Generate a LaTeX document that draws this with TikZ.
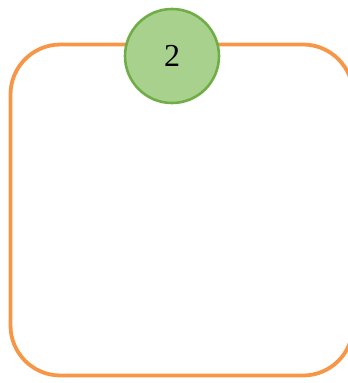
\documentclass[tikz,border=0pt]{standalone}
\usepackage{fontspec}
\setmainfont{Liberation Serif}
\usepackage{tikz}
\usetikzlibrary{positioning}
\definecolor{frameorange}{HTML}{F79646}
\definecolor{ballfill}{HTML}{A9D18E}
\definecolor{balldraw}{HTML}{70AD47}
\tikzset{
  frame/.style={draw=frameorange, line width=3.8pt, rounded corners=50pt},
  ball/.style={circle, draw=balldraw, fill=ballfill, line width=2.6pt, minimum size=94pt, inner sep=0pt, font=\fontsize{32}{35}\selectfont}
}

\begin{document}
\begin{tikzpicture}[x=1pt,y=-1pt]
\useasboundingbox (0,0) rectangle (348,383);
\clip (0,0) rectangle (348,383);
\draw[frame] (10.5,44.5) coordinate(A) rectangle (353,375.5) coordinate(C);
\node[ball] (two) at (172,56) {2};
\end{tikzpicture}
\end{document}
